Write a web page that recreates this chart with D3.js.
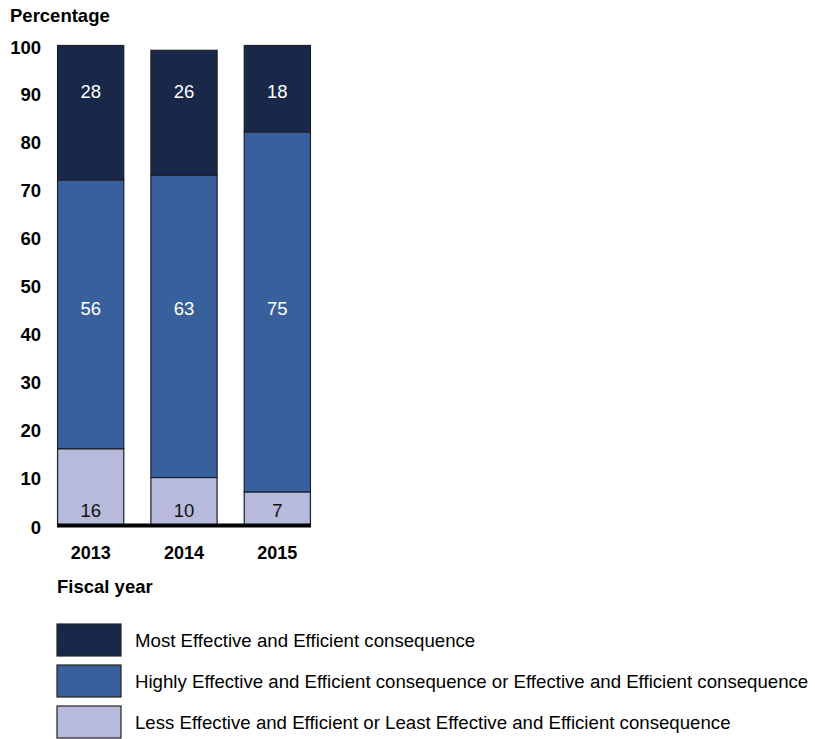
<!DOCTYPE html>
<html><head><meta charset="utf-8">
<script src="https://cdn.jsdelivr.net/npm/d3@7"></script>
<style>body{margin:0;background:#fff}svg{display:block;font-family:"Liberation Sans",Arial,sans-serif}</style>
</head><body><svg id="c" width="815" height="739"></svg>
<script>
const years = ["2013","2014","2015"];
const lessValues = [16,10,7];
const highlyValues = [56,63,75];
const mostValues = [28,26,18];
const seriesNames = [
  "Most Effective and Efficient consequence",
  "Highly Effective and Efficient consequence or Effective and Efficient consequence",
  "Less Effective and Efficient or Least Effective and Efficient consequence"
];
const yTicks = [0,10,20,30,40,50,60,70,80,90,100];

const colors = {less:"#b7badb", highly:"#37609c", most:"#192849"};
const svg = d3.select("#c");
const x = d3.scaleBand().domain(years).range([44,324]).paddingInner(0.28).paddingOuter(0.14);
const y = d3.scaleLinear().domain([0,100]).range([525.5,45.5]);

const rows = years.map((yr,i)=>({year:yr, less:lessValues[i], highly:highlyValues[i], most:mostValues[i]}));
const keys = ["less","highly","most"];
const stack = d3.stack().keys(keys)(rows);

const g = svg.append("g");
stack.forEach(layer=>{
  g.selectAll(null).data(layer).join("rect")
    .attr("x",d=>x(d.data.year)+0.5)
    .attr("width",x.bandwidth()-1)
    .attr("y",d=>y(d[1]))
    .attr("height",d=>y(d[0])-y(d[1]))
    .attr("fill",colors[layer.key])
    .attr("stroke","#1b1f2a").attr("stroke-width",1.2);
});

const labelPos = {most:90.5, highly:45.2, less:3.1};
const labelCol = {most:"#fff", highly:"#fff", less:"#111"};
keys.forEach(k=>{
  g.selectAll(null).data(rows).join("text")
    .attr("x",d=>x(d.year)+x.bandwidth()/2)
    .attr("y",y(labelPos[k]))
    .attr("dy","0.35em")
    .attr("text-anchor","middle")
    .attr("font-size",18.5)
    .attr("fill",labelCol[k])
    .text(d=>d[k]);
});

svg.append("line").attr("x1",x(years[0])).attr("x2",x(years[2])+x.bandwidth())
  .attr("y1",y(0)).attr("y2",y(0)).attr("stroke","#000").attr("stroke-width",4);

const yAxis = d3.axisLeft(y).tickValues(yTicks).tickSize(0).tickPadding(0).tickFormat(d3.format("d"));
const ya = svg.append("g").attr("transform","translate(41,0)").call(yAxis);
ya.select(".domain").remove();
ya.selectAll("text").attr("font-size",18.5).attr("font-weight","bold").attr("fill","#000")
  .attr("font-family","Liberation Sans, Arial, sans-serif").attr("dy","0.36em");
ya.selectAll("text").filter(d=>d===0).attr("y",1.5);
ya.selectAll("text").filter(d=>d===100).attr("y",1.5);

const xAxis = d3.axisBottom(x).tickSize(0).tickPadding(0);
const xa = svg.append("g").attr("transform","translate(0,546)").call(xAxis);
xa.select(".domain").remove();
xa.selectAll("text").attr("font-size",18).attr("font-weight","bold").attr("fill","#000")
  .attr("font-family","Liberation Sans, Arial, sans-serif").attr("dy","0.71em");

svg.append("text").attr("x",10).attr("y",22).attr("font-size",18.5).attr("font-weight","bold").text("Percentage");
svg.append("text").attr("x",57).attr("y",593).attr("font-size",18.5).attr("font-weight","bold").text("Fiscal year");

const legKeys = ["most","highly","less"];
const lg = svg.append("g");
legKeys.forEach((k,i)=>{
  const yy = 624 + i*41;
  lg.append("rect").attr("x",57).attr("y",yy).attr("width",64).attr("height",32)
    .attr("fill",colors[k]).attr("stroke","#222").attr("stroke-width",1.2);
  lg.append("text").attr("x",135).attr("y",yy+16).attr("dy","0.35em")
    .attr("font-size",18.65).attr("fill","#000").text(seriesNames[i]);
});
</script></body></html>
